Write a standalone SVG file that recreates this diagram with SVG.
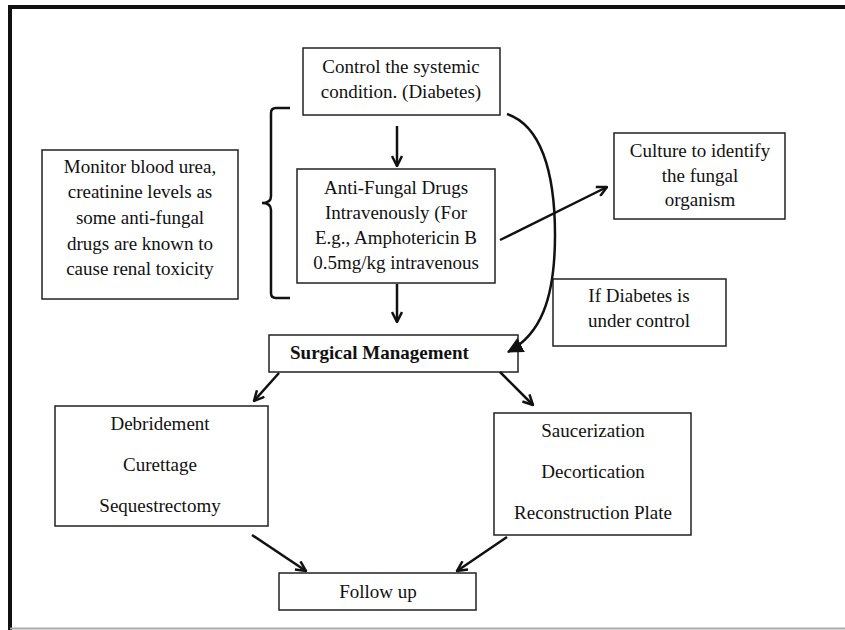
<svg xmlns="http://www.w3.org/2000/svg" width="845" height="630" viewBox="0 0 845 630">
<defs>
<style>
.box{fill:#fff;stroke:#222;stroke-width:1.5}
.t{font-size:19px;fill:#111;text-anchor:middle}
.b{font-weight:bold;text-anchor:start}
.c{fill:none;stroke:#111;stroke-width:2.5}
</style>
<marker id="open" viewBox="0 0 12 12" refX="11" refY="6" markerWidth="12" markerHeight="12" markerUnits="userSpaceOnUse" orient="auto">
<path d="M1,1 L11,6 L1,11" fill="none" stroke="#111" stroke-width="2.5"/>
</marker>
<marker id="solid" viewBox="0 0 14 14" refX="13" refY="7" markerWidth="16" markerHeight="16" markerUnits="userSpaceOnUse" orient="auto">
<path d="M0,0 L14,7 L0,14 z" fill="#111"/>
</marker>
</defs>
<rect width="845" height="630" fill="#fff"/>
<g id="frame">
<path d="M10,630 V7 H845" fill="none" stroke="#111" stroke-width="4"/>
<line x1="10" y1="628.5" x2="845" y2="628.5" stroke="#aaa" stroke-width="2"/>
</g>
<g font-family="'Liberation Serif', 'DejaVu Serif', 'Times New Roman', serif">
<g id="control">
<rect class="box" x="303" y="48" width="197" height="67"/>
<text class="t" x="401" y="73">Control the systemic</text>
<text class="t" x="401" y="98">condition. (Diabetes)</text>
</g>
<g id="antifungal">
<rect class="box" x="297" y="169" width="198" height="114"/>
<text class="t" x="396" y="194">Anti-Fungal Drugs</text>
<text class="t" x="396" y="219">Intravenously (For</text>
<text class="t" x="396" y="244">E.g., Amphotericin B</text>
<text class="t" x="396" y="269">0.5mg/kg intravenous</text>
</g>
<g id="monitor">
<rect class="box" x="42" y="150" width="196" height="149"/>
<text class="t" x="140" y="173">Monitor blood urea,</text>
<text class="t" x="140" y="198">creatinine levels as</text>
<text class="t" x="140" y="224">some anti-fungal</text>
<text class="t" x="140" y="250">drugs are known to</text>
<text class="t" x="140" y="275">cause renal toxicity</text>
</g>
<g id="culture">
<rect class="box" x="614" y="133" width="171" height="86"/>
<text class="t" x="700" y="157">Culture to identify</text>
<text class="t" x="700" y="182">the fungal</text>
<text class="t" x="700" y="206">organism</text>
</g>
<g id="ifdiabetes">
<rect class="box" x="553" y="279" width="173" height="67"/>
<text class="t" x="639" y="302">If Diabetes is</text>
<text class="t" x="639" y="327">under control</text>
</g>
<g id="surgical">
<rect class="box" x="269" y="335" width="249" height="37"/>
<text class="t b" x="290" y="359">Surgical Management</text>
</g>
<g id="debridement">
<rect class="box" x="55" y="406" width="213" height="120"/>
<text class="t" x="160" y="430">Debridement</text>
<text class="t" x="160" y="471">Curettage</text>
<text class="t" x="160" y="512">Sequestrectomy</text>
</g>
<g id="saucerization">
<rect class="box" x="494" y="413" width="197" height="122"/>
<text class="t" x="593" y="437">Saucerization</text>
<text class="t" x="593" y="478">Decortication</text>
<text class="t" x="593" y="519">Reconstruction Plate</text>
</g>
<g id="followup">
<rect class="box" x="279" y="573" width="197" height="37"/>
<text class="t" x="378" y="598">Follow up</text>
</g>
</g>
<g id="connectors">
<path class="c" d="M290,108 H276 Q271,108 271,113 V196 Q271,203 262,203 Q271,203 271,210 V293 Q271,298 276,298 H290"/>
<line class="c" x1="397" y1="126" x2="397" y2="166" marker-end="url(#open)"/>
<line class="c" x1="397" y1="284" x2="397" y2="322" marker-end="url(#open)"/>
<line class="c" x1="500" y1="240" x2="607" y2="187" marker-end="url(#open)"/>
<path class="c" d="M507,114 C540,125 555,170 555,235 C555,300 540,335 508,352" marker-end="url(#solid)"/>
<line class="c" x1="279" y1="373" x2="254" y2="401" marker-end="url(#open)"/>
<line class="c" x1="500" y1="372" x2="533" y2="405" marker-end="url(#open)"/>
<line class="c" x1="252" y1="535" x2="306" y2="571" marker-end="url(#open)"/>
<line class="c" x1="507" y1="537" x2="457" y2="571" marker-end="url(#open)"/>
</g>
</svg>
